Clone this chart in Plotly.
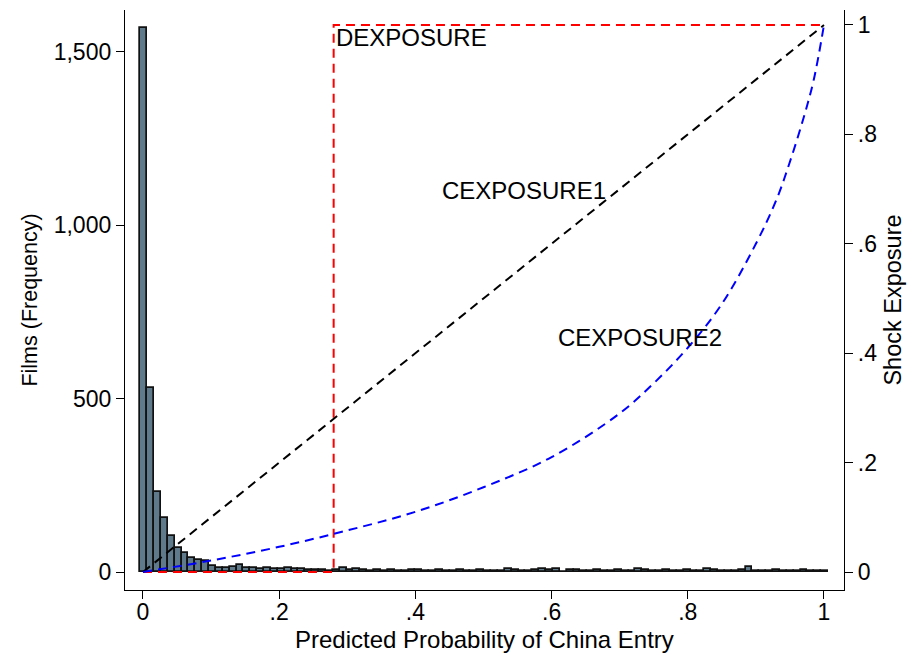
import plotly.graph_objects as go

# Histogram: 100 bins of predicted probability
bin_start = -0.004
bin_width = 0.0101
counts = [1570, 531, 231, 156, 105, 69, 55, 40, 35, 32,
          17, 12, 12, 14, 20, 12, 12, 10, 11, 8,
          9, 12, 8, 9, 6, 5, 5, 4, 5, 11,
          6, 10, 5, 4, 6, 4, 5, 3, 4, 5,
          6, 4, 3, 6, 4, 3, 5, 4, 3, 6,
          4, 3, 4, 8, 5, 4, 4, 5, 9, 5,
          10, 0, 5, 6, 3, 4, 5, 4, 3, 5,
          4, 3, 9, 6, 4, 3, 5, 4, 4, 5,
          3, 4, 10, 6, 4, 3, 4, 5, 15, 4,
          3, 4, 7, 4, 3, 4, 5, 4, 3, 4]

# Shock exposure measures (right axis)
dexp_x = [0, 0.28, 1]
dexp_y = [0, 1, 1]
cexp1_x = [0, 1]
cexp1_y = [0, 1]
cexp2_x = [0, 0.1, 0.2, 0.3, 0.4, 0.5, 0.6, 0.7, 0.75, 0.8, 0.85, 0.9, 0.93, 0.95, 0.97, 0.985, 1.0]
cexp2_y = [0, 0.021, 0.046, 0.076, 0.11, 0.155, 0.21, 0.29, 0.345, 0.41, 0.49, 0.6, 0.68, 0.75, 0.83, 0.9, 1.0]

labels = ["DEXPOSURE", "CEXPOSURE1", "CEXPOSURE2"]
label_x = [0.28, 0.436, 0.606]
label_y = [0.978, 0.698, 0.428]

x_title = "Predicted Probability of China Entry"
x_ticks = [0, 0.2, 0.4, 0.6, 0.8, 1]
x_ticktext = ["0", ".2", ".4", ".6", ".8", "1"]
y_ticks = [0, 500, 1000, 1500]
y_ticktext = ["0", "500", "1,000", "1,500"]
y2_ticks = [0, 0.2, 0.4, 0.6, 0.8, 1]
y2_ticktext = ["0", ".2", ".4", ".6", ".8", "1"]

centers = [bin_start + (i + 0.5) * bin_width for i in range(len(counts))]

FONT = "Liberation Sans, Arial, Helvetica, sans-serif"
DASH = "9px,6px"

fig = go.Figure()
fig.add_trace(go.Bar(
    x=centers, y=counts, width=bin_width,
    marker=dict(color="#5f7a8b", line=dict(color="#111111", width=1.7)),
    yaxis="y", showlegend=False,
))
fig.add_trace(go.Scatter(
    x=dexp_x, y=dexp_y, mode="lines", line_shape="hv",
    line=dict(color="#ff0000", width=2, dash=DASH), yaxis="y2", showlegend=False,
))
fig.add_trace(go.Scatter(
    x=cexp1_x, y=cexp1_y, mode="lines",
    line=dict(color="#000000", width=2, dash=DASH), yaxis="y2", showlegend=False,
))
fig.add_trace(go.Scatter(
    x=cexp2_x, y=cexp2_y, mode="lines", line_shape="spline",
    line=dict(color="#0000ff", width=2, dash=DASH), yaxis="y2", showlegend=False,
))

for t, lx, ly in zip(labels, label_x, label_y):
    fig.add_annotation(x=lx, y=ly, xref="x", yref="y2", text=t, showarrow=False,
                       xanchor="left", yanchor="middle",
                       font=dict(family=FONT, size=24, color="black"))

# x-axis title placed below the tick labels
fig.add_annotation(x=0.5, y=-0.0862, xref="paper", yref="paper", text=x_title,
                   showarrow=False, xanchor="center", yanchor="middle",
                   font=dict(family=FONT, size=24, color="black"))

axis_common = dict(showline=True, linecolor="black", linewidth=1.3, ticks="outside",
                   ticklen=8, tickcolor="black", tickwidth=1.3, showgrid=False, zeroline=False,
                   automargin=False,
                   tickfont=dict(family=FONT, size=23, color="black"))

fig.update_layout(
    width=914, height=657,
    margin=dict(l=125, r=70, t=10, b=67),
    plot_bgcolor="white", paper_bgcolor="white",
    bargap=0,
    xaxis=dict(range=[-0.0264, 1.0294], tickvals=x_ticks, ticktext=x_ticktext,
               ticklabelstandoff=-7,
               **axis_common),
    yaxis=dict(range=[-51.9, 1621], tickvals=y_ticks, ticktext=y_ticktext,
               title=dict(text="Films (Frequency)", standoff=10,
                          font=dict(family=FONT, size=21.5, color="black")),
               **axis_common),
    yaxis2=dict(range=[-0.0329, 1.0274], tickvals=y2_ticks, ticktext=y2_ticktext,
                overlaying="y", side="right",
                title=dict(text="Shock Exposure", standoff=8,
                           font=dict(family=FONT, size=23.5, color="black")),
                **axis_common),
)

fig.write_html("out.html")
